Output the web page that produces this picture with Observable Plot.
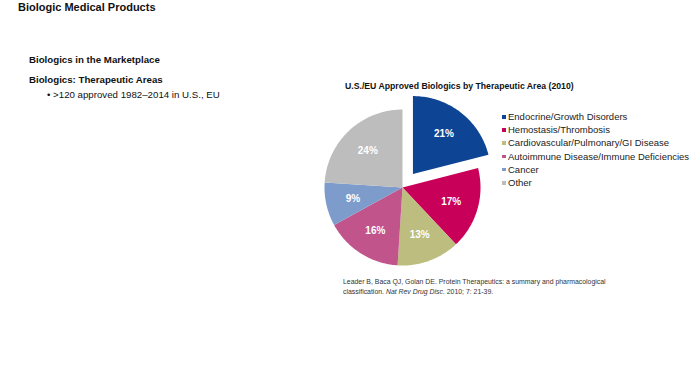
<!DOCTYPE html>
<html>
<head>
<meta charset="utf-8">
<script src="https://cdn.jsdelivr.net/npm/d3@7"></script>
<script src="https://cdn.jsdelivr.net/npm/@observablehq/plot@0.6"></script>
<style>
  html, body { margin: 0; padding: 0; background: #fff; }
  body { width: 700px; height: 375px; position: relative; overflow: hidden; font-family: "Liberation Sans", Arial, sans-serif; color: #111; }
  .t { position: absolute; white-space: nowrap; }
  #chart { position: absolute; left: 302px; top: 87px; }
  .leg { position: absolute; left: 502px; top: 110px; font-size: 9.5px; line-height: 13.2px; color: #222; }
  .leg div { position: relative; padding-left: 6px; }
  .leg span.sw { position: absolute; left: 0; top: 5px; width: 3.5px; height: 3.5px; }
</style>
</head>
<body>
<div class="t" style="left:18px; top:1px; font-size:11px; font-weight:bold;">Biologic Medical Products</div>
<div class="t" style="left:29px; top:54px; font-size:9.7px; font-weight:bold;">Biologics in the Marketplace</div>
<div class="t" style="left:29px; top:74px; font-size:9.7px; font-weight:bold;">Biologics: Therapeutic Areas</div>
<div class="t" style="left:47px; top:89px; font-size:9.7px;">•&nbsp;&gt;120 approved 1982–2014 in U.S., EU</div>
<div class="t" style="left:345px; top:81px; font-size:8.7px; font-weight:bold;">U.S./EU Approved Biologics by Therapeutic Area (2010)</div>
<div id="chart"></div>
<div class="leg" id="legend"></div>
<div class="t" style="left:343px; top:277px; font-size:6.9px; line-height:9.6px; color:#333;">Leader B, Baca QJ, Golan DE. Protein Therapeutics: a summary and pharmacological<br>classification. <i>Nat Rev Drug Disc.</i> 2010; 7: 21-39.</div>
<script>
const categories = ["Endocrine/Growth Disorders", "Hemostasis/Thrombosis", "Cardiovascular/Pulmonary/GI Disease", "Autoimmune Disease/Immune Deficiencies", "Cancer", "Other"];
const shares = [21, 17, 13, 16, 9, 24];
const colors = ["#0d4594", "#c9005a", "#bcbd7e", "#c2548c", "#7e9ccb", "#bdbdbd"];
const exploded = ["Endocrine/Growth Disorders"];

const data = categories.map((c, i) => ({cat: c, value: shares[i]}));
const arcs = d3.pie().value(d => d.value).sort(null)(data);

const explode = 17 / 78;
const pts = [];
const labels = [];
for (const a of arcs) {
  const mid = (a.startAngle + a.endAngle) / 2;
  const off = exploded.includes(a.data.cat) ? explode : 0;
  const cx = off * Math.sin(mid), cy = off * Math.cos(mid);
  pts.push({cat: a.data.cat, x: cx, y: cy});
  const n = Math.max(2, Math.ceil((a.endAngle - a.startAngle) / 0.02));
  for (let k = 0; k <= n; k++) {
    const t = a.startAngle + (a.endAngle - a.startAngle) * k / n;
    pts.push({cat: a.data.cat, x: cx + Math.sin(t), y: cy + Math.cos(t)});
  }
  labels.push({cat: a.data.cat, text: a.data.value + "%", x: cx + 0.65 * Math.sin(mid), y: cy + 0.65 * Math.cos(mid)});
}

const R = 100 / 78;
const plot = Plot.plot({
  width: 200, height: 200, margin: 0,
  x: {domain: [-R, R], axis: null},
  y: {domain: [-R, R], axis: null},
  color: {domain: categories, range: colors},
  marks: [
    Plot.line(pts, {x: "x", y: "y", z: "cat", fill: "cat", stroke: "none", curve: "linear-closed"}),
    Plot.text(labels, {x: "x", y: "y", text: "text", fill: "white", fontWeight: "bold", fontSize: 10, fontFamily: "Liberation Sans, Arial, sans-serif"})
  ]
});
document.getElementById("chart").appendChild(plot);

const leg = document.getElementById("legend");
categories.forEach((c, i) => {
  const d = document.createElement("div");
  const s = document.createElement("span");
  s.className = "sw"; s.style.background = colors[i];
  d.appendChild(s);
  d.appendChild(document.createTextNode(c));
  leg.appendChild(d);
});
</script>
</body>
</html>
